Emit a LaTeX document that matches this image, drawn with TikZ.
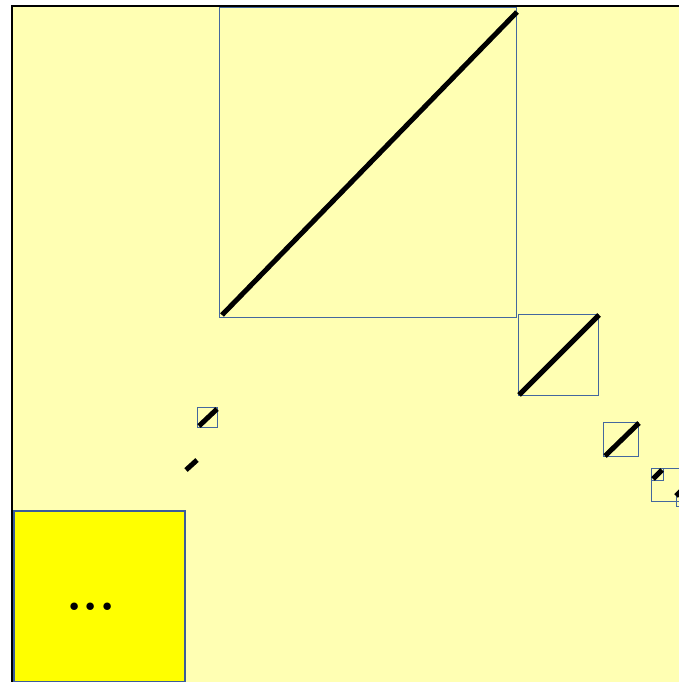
\documentclass[tikz,border=0pt]{standalone}
\definecolor{bg}{HTML}{FFFFB3}
\definecolor{edge}{HTML}{44679E}
\definecolor{edge2}{HTML}{3B5C9A}
\definecolor{pureyellow}{HTML}{FFFF00}
\begin{document}
\begin{tikzpicture}[x=1pt,y=-1pt,
  thinbox/.style={draw=edge,line width=1pt,inner sep=0pt,anchor=north west},
  diag/.style={line width=5pt,line cap=butt,black},
  bigyellow/.style={draw=edge2,line width=2pt,fill=pureyellow,inner sep=0pt,anchor=north west},
]
\useasboundingbox (0,0) rectangle (679,682);
\clip (0,0) rectangle (679,682);
\fill[white] (0,0) rectangle (679,682);
\fill[bg] (12,6) rectangle (700,700);
\draw[line width=2pt] (12,700) -- (12,6) -- (700,6);
% boxes
\node[thinbox,minimum width=297pt,minimum height=310pt] (b1) at (219,7) {};
\node[thinbox,minimum width=80pt,minimum height=81pt] (b2) at (518,314) {};
\node[thinbox,minimum width=35pt,minimum height=34pt] (b3) at (603,422) {};
\node[thinbox,minimum width=20pt,minimum height=20pt] (b0) at (197,407) {};
\node[thinbox,minimum width=49pt,minimum height=33pt] (b4) at (651,468) {};
\node[thinbox,minimum width=12pt,minimum height=12pt] (b5) at (651,468) {};
\node[thinbox,minimum width=14pt,minimum height=12pt] (b6) at (676,494) {};
% diagonals
\draw[diag] ([shift={(3,-3)}]b1.south west) -- ([shift={(0,5)}]b1.north east);
\draw[diag] ([shift={(1,-1)}]b2.south west) -- ([shift={(0,1)}]b2.north east);
\draw[diag] ([shift={(2,-1)}]b3.south west) -- ([shift={(0,1)}]b3.north east);
\draw[diag] ([shift={(2,-2)}]b0.south west) -- ([shift={(-1,2)}]b0.north east);
\draw[diag] ([shift={(2,-2)}]b5.south west) -- ([shift={(-2,2)}]b5.north east);
\coordinate (s1) at (186,470);
\coordinate (s2) at (197,460);
\draw[diag] (s1) -- (s2);
\coordinate (t1) at (676,496);
\coordinate (t2) at (683,489);
\draw[diag] (t1) -- (t2);
% yellow block
\node[bigyellow,minimum width=171pt,minimum height=171pt] (yb) at (13,510) {};
\node[inner sep=0pt,anchor=base,font=\fontsize{52}{52}\selectfont\bfseries] (dots) at (91,610) {...};
\end{tikzpicture}
\end{document}
